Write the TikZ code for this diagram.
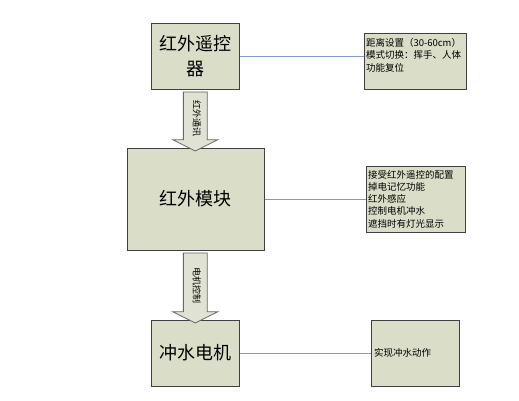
\documentclass[tikz,border=0pt]{standalone}
\usepackage{fontspec}
\setmainfont{Noto Sans CJK SC}
\usepackage{tikz}
\usetikzlibrary{positioning}
\usetikzlibrary{shapes.arrows}
\usetikzlibrary{calc}
\usepackage{xcolor}
\definecolor{boxfill}{RGB}{218,222,200}
\definecolor{arrowfill}{RGB}{224,226,212}
\definecolor{linkblue}{RGB}{127,157,201}

\begin{document}
\begin{tikzpicture}[x=1pt,y=-1pt,
    block/.style={draw=black!75, line width=1pt, fill=boxfill, align=center,
        font=\fontsize{18}{25}\selectfont, inner sep=0pt},
    note/.style={draw=black!75, line width=0.9pt, fill=boxfill, align=left,
        font=\fontsize{9.5}{12.3}\selectfont, inner xsep=2pt, inner ysep=0pt},
    flow/.style={single arrow, draw=black!60, line width=0.8pt, fill=arrowfill,
        rotate=-90, font=\fontsize{9}{10}\selectfont, inner xsep=0pt, inner ysep=7pt,
        text height=6.5pt, text depth=2.5pt,
        single arrow head extend=10.5pt, single arrow tip angle=127},
    link/.style={linkblue, line width=0.9pt}]

\useasboundingbox (0,0) rectangle (519,400);

% main boxes
\node[block, minimum width=88pt, minimum height=66pt] (ctl) at (195,56) {红外遥控\\器};
\node[block, minimum width=137pt, minimum height=102pt] (mod) at (195.5,199) {红外模块};
\node[block, minimum width=88pt, minimum height=66pt] (mot) at (195,353) {冲水电机};

% notes
\node[note, minimum width=102pt, minimum height=56pt, text width=98pt] (cfg) at (415,61)
    {距离设置（30-60cm）\\模式切换：挥手、人体\\功能复位\\ \mbox{}};
\node[note, minimum width=99pt, minimum height=66pt, text width=95pt] (fun) at (415.5,199)
    {接受红外遥控的配置\\掉电记忆功能\\红外感应\\控制电机冲水\\遮挡时有灯光显示};
\node[note, minimum width=88pt, minimum height=66pt, text width=82pt, inner xsep=3pt] (act) at (415,353)
    {实现冲水动作};

% arrows
\node[flow, minimum height=59pt] (ir) at ($(ctl.south)!0.5!(mod.north)$) {红外通讯};
\node[flow, minimum height=70pt] (drv) at ($(mod.south)!0.5!(mot.north)$) {电机控制};

% links
\draw[link] (ctl.east) -- (ctl.east -| cfg.west);
\draw[link] (mod.east) -- (fun.west);
\draw[link] (mot.east) -- (act.west);

\end{tikzpicture}
\end{document}
